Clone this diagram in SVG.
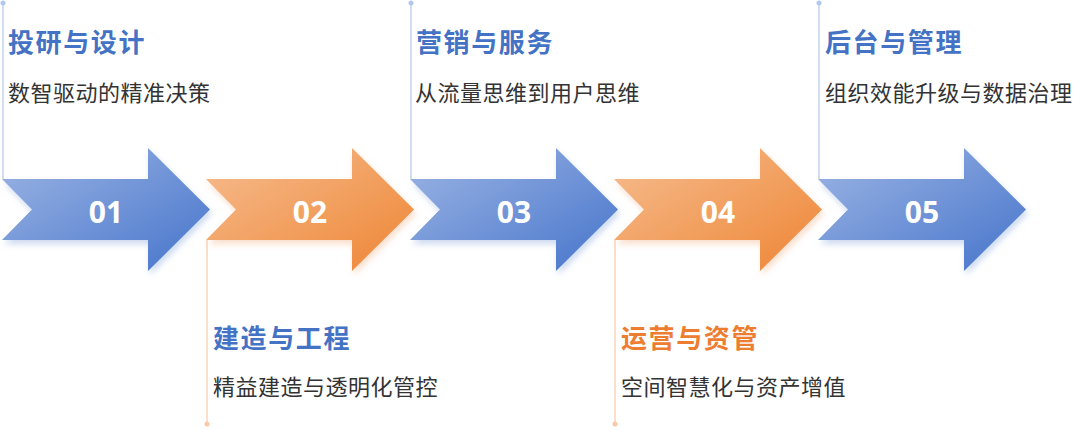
<svg xmlns="http://www.w3.org/2000/svg" width="1080" height="430" viewBox="0 0 1080 430">
<defs>
<linearGradient id="gBlue" x1="0" y1="0" x2="1" y2="1">
<stop offset="0" stop-color="#9db5e4"/>
<stop offset="1" stop-color="#4574cb"/>
</linearGradient>
<linearGradient id="gOrange" x1="0" y1="0" x2="1" y2="1">
<stop offset="0" stop-color="#f6bd90"/>
<stop offset="1" stop-color="#ee8534"/>
</linearGradient>
<filter id="shB" x="-10%" y="-10%" width="125%" height="130%">
<feDropShadow dx="2" dy="4" stdDeviation="3" flood-color="#6f93d6" flood-opacity="0.35"/>
</filter>
<filter id="shO" x="-10%" y="-10%" width="125%" height="130%">
<feDropShadow dx="2" dy="4" stdDeviation="3" flood-color="#f0a06a" flood-opacity="0.35"/>
</filter>
<path id="arrow" d="M0 179 L146 179 L146 148 L208 209.5 L146 271 L146 240 L0 240 L30 209.5 Z"/>
</defs>
<style>
.title{font-family:"Noto Sans CJK SC","Noto Sans CJK JP",sans-serif;font-size:26px;font-weight:700;letter-spacing:1.6px}
.tb{fill:#4472c4}
.to{fill:#ed7d31}
.sub{font-family:"Noto Sans CJK SC","Noto Sans CJK JP",sans-serif;font-size:22px;fill:#333333;letter-spacing:0.5px}
.num{font-family:"Open Sans","Liberation Sans",sans-serif;font-size:30px;font-weight:700;fill:#ffffff;text-anchor:middle}
.lb{stroke:#b4c7ec;stroke-width:1.2;fill:none}
.lo{stroke:#f8c9a6;stroke-width:1.2;fill:none}
.db{fill:#b4c7ec}
.do{fill:#f8c9a6}
</style>
<rect width="1080" height="430" fill="#ffffff"/>
<g id="connectors">
<line class="lb" x1="3" y1="3" x2="3" y2="179"/><circle class="db" cx="3" cy="3" r="2.5"/>
<line class="lo" x1="207" y1="240" x2="207" y2="424"/><circle class="do" cx="207" cy="424" r="2.5"/>
<line class="lb" x1="411" y1="3" x2="411" y2="179"/><circle class="db" cx="411" cy="3" r="2.5"/>
<line class="lo" x1="615" y1="240" x2="615" y2="424"/><circle class="do" cx="615" cy="424" r="2.5"/>
<line class="lb" x1="819" y1="3" x2="819" y2="179"/><circle class="db" cx="819" cy="3" r="2.5"/>
</g>
<g id="node1">
<use href="#arrow" x="2" fill="url(#gBlue)" filter="url(#shB)"/>
<text class="num" x="106" y="223">01</text>
<text class="title tb" x="8" y="52">投研与设计</text>
<text class="sub" x="8" y="101">数智驱动的精准决策</text>
</g>
<g id="node2">
<use href="#arrow" x="206" fill="url(#gOrange)" filter="url(#shO)"/>
<text class="num" x="310" y="223">02</text>
<text class="title tb" x="213" y="348">建造与工程</text>
<text class="sub" x="213" y="395">精益建造与透明化管控</text>
</g>
<g id="node3">
<use href="#arrow" x="410" fill="url(#gBlue)" filter="url(#shB)"/>
<text class="num" x="514" y="223">03</text>
<text class="title tb" x="416" y="52">营销与服务</text>
<text class="sub" x="415" y="101">从流量思维到用户思维</text>
</g>
<g id="node4">
<use href="#arrow" x="614" fill="url(#gOrange)" filter="url(#shO)"/>
<text class="num" x="718" y="223">04</text>
<text class="title to" x="621" y="348">运营与资管</text>
<text class="sub" x="621" y="395">空间智慧化与资产增值</text>
</g>
<g id="node5">
<use href="#arrow" x="818" fill="url(#gBlue)" filter="url(#shB)"/>
<text class="num" x="922" y="223">05</text>
<text class="title tb" x="825" y="52">后台与管理</text>
<text class="sub" x="825" y="101">组织效能升级与数据治理</text>
</g>
</svg>
